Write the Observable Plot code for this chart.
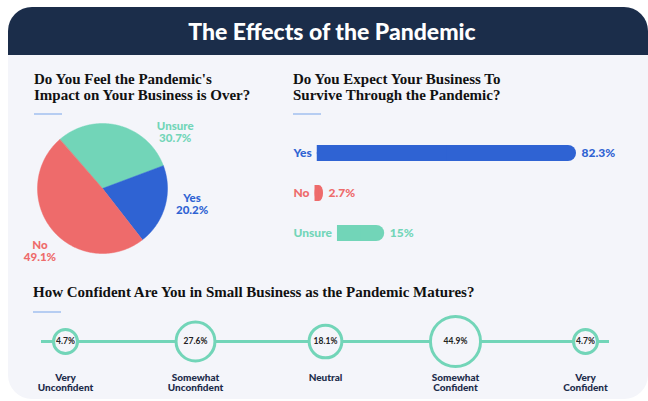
<!DOCTYPE html>
<html><head><meta charset="utf-8">
<script src="https://cdn.jsdelivr.net/npm/d3@7"></script>
<script src="https://cdn.jsdelivr.net/npm/@observablehq/plot@0.6"></script>
<style>
html,body{margin:0;padding:0;background:#fff;width:648px;height:401px;overflow:hidden;font-family:Lato,"Noto Sans",sans-serif;}
#card{position:absolute;left:8px;top:7px;width:640px;height:392px;border-radius:24px;background:#f4f5fa;overflow:hidden;}
#header{position:absolute;left:8px;top:7px;width:640px;height:48px;background:#1b2d4a;border-radius:24px 24px 0 0;color:#fff;font-family:Lato,sans-serif;font-weight:900;font-size:23px;display:flex;align-items:center;justify-content:center;padding-left:8px;box-sizing:border-box;}
.h{position:absolute;font-family:"Liberation Serif",serif;font-weight:bold;font-size:15px;line-height:16px;color:#111;white-space:nowrap;}
.acc{position:absolute;height:2px;width:28px;background:#b6cdf2;}
.plot{position:absolute;}
</style></head>
<body>
<div id="card"></div>
<div id="header">The Effects of the Pandemic</div>
<div class="h" style="left:34px;top:71px">Do You Feel the Pandemic's<br>Impact on Your Business is Over?</div>
<div class="acc" style="left:34px;top:113px"></div>
<div class="h" style="left:293px;top:71px">Do You Expect Your Business To<br>Survive Through the Pandemic?</div>
<div class="acc" style="left:293px;top:113px"></div>
<div class="h" style="left:33px;top:284px">How Confident Are You in Small Business as the Pandemic Matures?</div>
<div class="acc" style="left:33px;top:311px"></div>
<div id="pie" class="plot" style="left:0;top:100px"></div>
<div id="bars" class="plot" style="left:293px;top:121px"></div>
<div id="conf" class="plot" style="left:0;top:310px"></div>
<script>
// ---- data ----
const overCats = ["Unsure", "Yes", "No"];
const overVals = [30.7, 20.2, 49.1];

const surviveCats = ["Yes", "No", "Unsure"];
const surviveVals = [82.3, 2.7, 15];

const confCats = ["Very Unconfident", "Somewhat Unconfident", "Neutral", "Somewhat Confident", "Very Confident"];
const confVals = [4.7, 27.6, 18.1, 44.9, 4.7];

// ---- styling / layout config ----
const palette = {domain: ["Yes", "No", "Unsure"], range: ["#2f63d3", "#ee6b6b", "#72d5b8"]};
const teal = "#72d5b8";
const bg = "#f4f5fa";
const pieStartDeg = -41.1;
const pieLabelDeg = {Unsure: 52, Yes: 100, No: 225};
const pieLabelR = {Unsure: 1.42, Yes: 1.4, No: 1.36};
const fontStyle = {background: "transparent", fontFamily: "Lato, 'Noto Sans', sans-serif", overflow: "visible"};

// ---- pie ----
const overRows = overCats.map((k, i) => ({k, value: overVals[i]}));
const start = pieStartDeg * Math.PI / 180;
const arcs = d3.pie().sort(null).value(d => d.value).startAngle(start).endAngle(start + 2 * Math.PI)(overRows);
const piePts = [];
for (const a of arcs) {
  piePts.push({k: a.data.k, x: 0, y: 0});
  const n = Math.ceil((a.endAngle - a.startAngle) / (Math.PI / 360));
  for (let i = 0; i <= n; i++) {
    const t = a.startAngle + (a.endAngle - a.startAngle) * i / n;
    piePts.push({k: a.data.k, x: Math.sin(t), y: Math.cos(t)});
  }
}
const pieLabels = overRows.map(d => {
  const t = pieLabelDeg[d.k] * Math.PI / 180, r = pieLabelR[d.k];
  return {k: d.k, value: d.value, x: r * Math.sin(t), y: r * Math.cos(t)};
});
document.getElementById("pie").append(Plot.plot({
  width: 270, height: 190, margin: 0,
  style: fontStyle,
  x: {domain: [-1, 1], range: [37, 167], axis: null},
  y: {domain: [-1, 1], range: [153, 23], axis: null},
  color: palette,
  marks: [
    Plot.line(piePts, {x: "x", y: "y", z: "k", fill: "k", stroke: "k", strokeWidth: 0.5, curve: "linear-closed"}),
    Plot.text(pieLabels, {x: "x", y: "y", text: d => d.k + "\n" + d.value + "%", fill: "k", fontSize: 11.5, lineHeight: 1.05, fontWeight: 900, letterSpacing: 0.2})
  ]
}));

// ---- survive bars ----
const pxPerUnit = 315 / 100;
const ctx = document.createElement("canvas").getContext("2d");
ctx.font = "900 12px Lato";
const surviveRows = surviveCats.map((k, i) => {
  const s = (ctx.measureText(k).width + 5.5) / pxPerUnit;
  return {k, value: surviveVals[i], start: s, end: s + surviveVals[i]};
});
document.getElementById("bars").append(Plot.plot({
  width: 355, height: 144, margin: 0,
  style: fontStyle,
  x: {domain: [0, 100], range: [0, 315], axis: null},
  y: {domain: surviveCats, range: [0, 144], padding: 0.6, axis: null},
  color: palette,
  marks: [
    Plot.barX(surviveRows, {y: "k", x1: "start", x2: "end", fill: "k", rx: 8}),
    Plot.barX(surviveRows, {y: "k", x1: "start", x2: d => (d.start + d.end) / 2, fill: "k"}),
    Plot.text(surviveRows, {y: "k", x: () => 0, text: "k", fill: "k", textAnchor: "start", fontSize: 12, fontWeight: 900}),
    Plot.text(surviveRows, {y: "k", x: "end", dx: 5, text: d => d.value + "%", fill: "k", textAnchor: "start", fontSize: 12, fontWeight: 900})
  ]
}));

// ---- confidence ----
const confRows = confCats.map((k, i) => ({k, value: confVals[i]}));
document.getElementById("conf").append(Plot.plot({
  width: 648, height: 91, marginLeft: 41, marginRight: 39, marginTop: 0, marginBottom: 29,
  style: fontStyle,
  x: {type: "point", domain: confCats, range: [63.5, 586.5], padding: 0, axis: null},
  y: {domain: [-1, 1], range: [62, 0], axis: null},
  r: {type: "linear", domain: [0, 50], range: [10.5, 26.7]},
  marks: [
    Plot.ruleY([0], {stroke: teal, strokeWidth: 3}),
    Plot.dot(confRows, {x: "k", y: () => 0, r: "value", stroke: teal, strokeWidth: 3, fill: bg}),
    Plot.text(confRows, {x: "k", y: () => 0, text: d => d.value + "%", fontSize: 8.5, fontWeight: "bold", fill: "#222", letterSpacing: -0.3}),
    Plot.text(confRows, {x: "k", y: () => 0, text: "k", lineWidth: 4, lineAnchor: "top", lineHeight: 1.05, dy: 32, fontSize: 10, fontWeight: 900, fill: "#1d2c4b"})
  ]
}));
</script>
</body></html>
